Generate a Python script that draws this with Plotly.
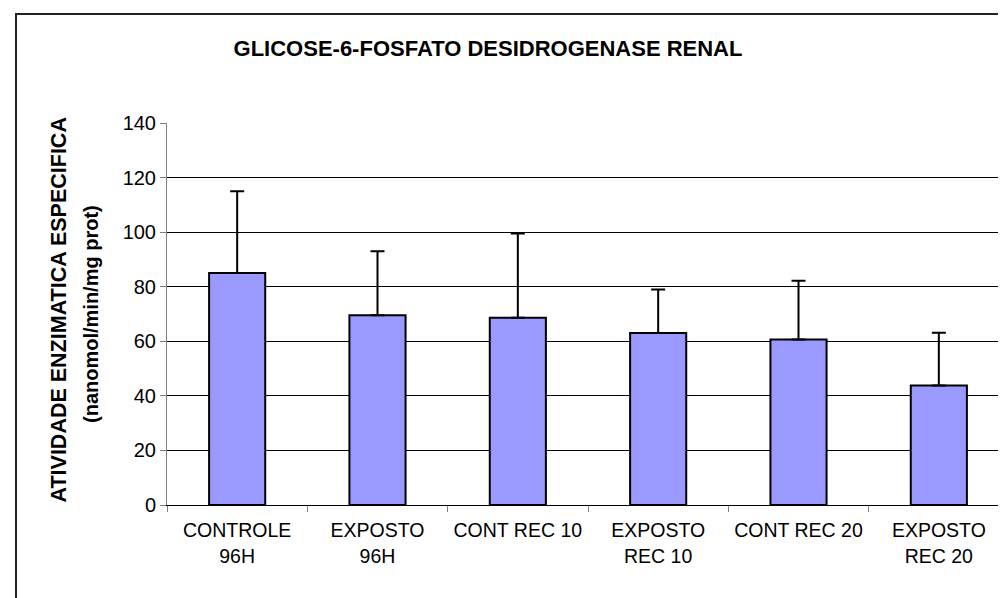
import plotly.graph_objects as go

categories = ["CONTROLE<br>96H", "EXPOSTO<br>96H", "CONT REC 10", "EXPOSTO<br>REC 10", "CONT REC 20", "EXPOSTO<br>REC 20"]
values = [85.0, 69.5, 68.6, 63.0, 60.7, 43.8]
errors_plus = [30.0, 23.5, 30.9, 16.0, 21.5, 19.3]
y_ticks = [0, 20, 40, 60, 80, 100, 120, 140]

title_text = "GLICOSE-6-FOSFATO DESIDROGENASE RENAL"
y_title_1 = "ATIVIDADE ENZIMATICA ESPECIFICA"
y_title_2 = "(nanomol/min/mg prot)"

FONT = "Liberation Sans, Arial, sans-serif"
W, H = 1006, 598
L, R, T, B = 159, 5, 115, 101
pw, ph = W - L - R, H - T - B

fig = go.Figure()
fig.add_trace(go.Bar(
    x=categories, y=values, width=0.4,
    marker=dict(color="#9999FF", line=dict(color="black", width=2)),
    error_y=dict(type="data", array=errors_plus, arrayminus=[0]*len(values),
                 symmetric=False, color="black", thickness=2, width=7),
    showlegend=False,
))

fig.update_layout(
    width=W, height=H,
    margin=dict(l=L, r=R, t=T, b=B, autoexpand=False),
    paper_bgcolor="white", plot_bgcolor="white",
    font=dict(family=FONT, size=20, color="black"),
    title=dict(text="<b>" + title_text + "</b>", x=480 / W, xref="container", xanchor="center",
               y=1 - 40 / H, yref="container", yanchor="middle",
               font=dict(family=FONT, size=22, color="black")),
    bargap=0.6,
    xaxis=dict(showline=True, linecolor="black", linewidth=1, ticks="outside",
               tickson="boundaries", ticklen=6, tickcolor="#808080", showgrid=False,
               tickangle=0, automargin=False,
               tickfont=dict(family=FONT, size=19.5, color="black"), ticklabelstandoff=8),
    yaxis=dict(range=[0, 140], tickvals=y_ticks, showline=True, linecolor="#808080", linewidth=1,
               ticks="outside", ticklen=6, tickcolor="#808080", showgrid=True,
               gridcolor="black", gridwidth=1, zeroline=False, automargin=False,
               tickfont=dict(family=FONT, size=20, color="black")),
    annotations=[
        dict(text="<b>" + y_title_1 + "</b>", textangle=-90, xref="paper", yref="paper",
             x=(50 - L) / pw, y=0.0, showarrow=False, xanchor="center", yanchor="bottom",
             font=dict(family=FONT, size=21.5, color="black")),
        dict(text="<b>" + y_title_2 + "</b>", textangle=-90, xref="paper", yref="paper",
             x=(83 - L) / pw, y=0.5, showarrow=False, xanchor="center", yanchor="middle",
             font=dict(family=FONT, size=20, color="black")),
    ],
    shapes=[dict(type="rect", xref="paper", yref="paper",
                 x0=(8 - L) / pw, x1=(1015 - L) / pw,
                 y0=-(610 - (H - B)) / ph, y1=((H - B) - 6) / ph,
                 line=dict(color="#222222", width=2), layer="below")],
)

fig.write_html("out.html")
